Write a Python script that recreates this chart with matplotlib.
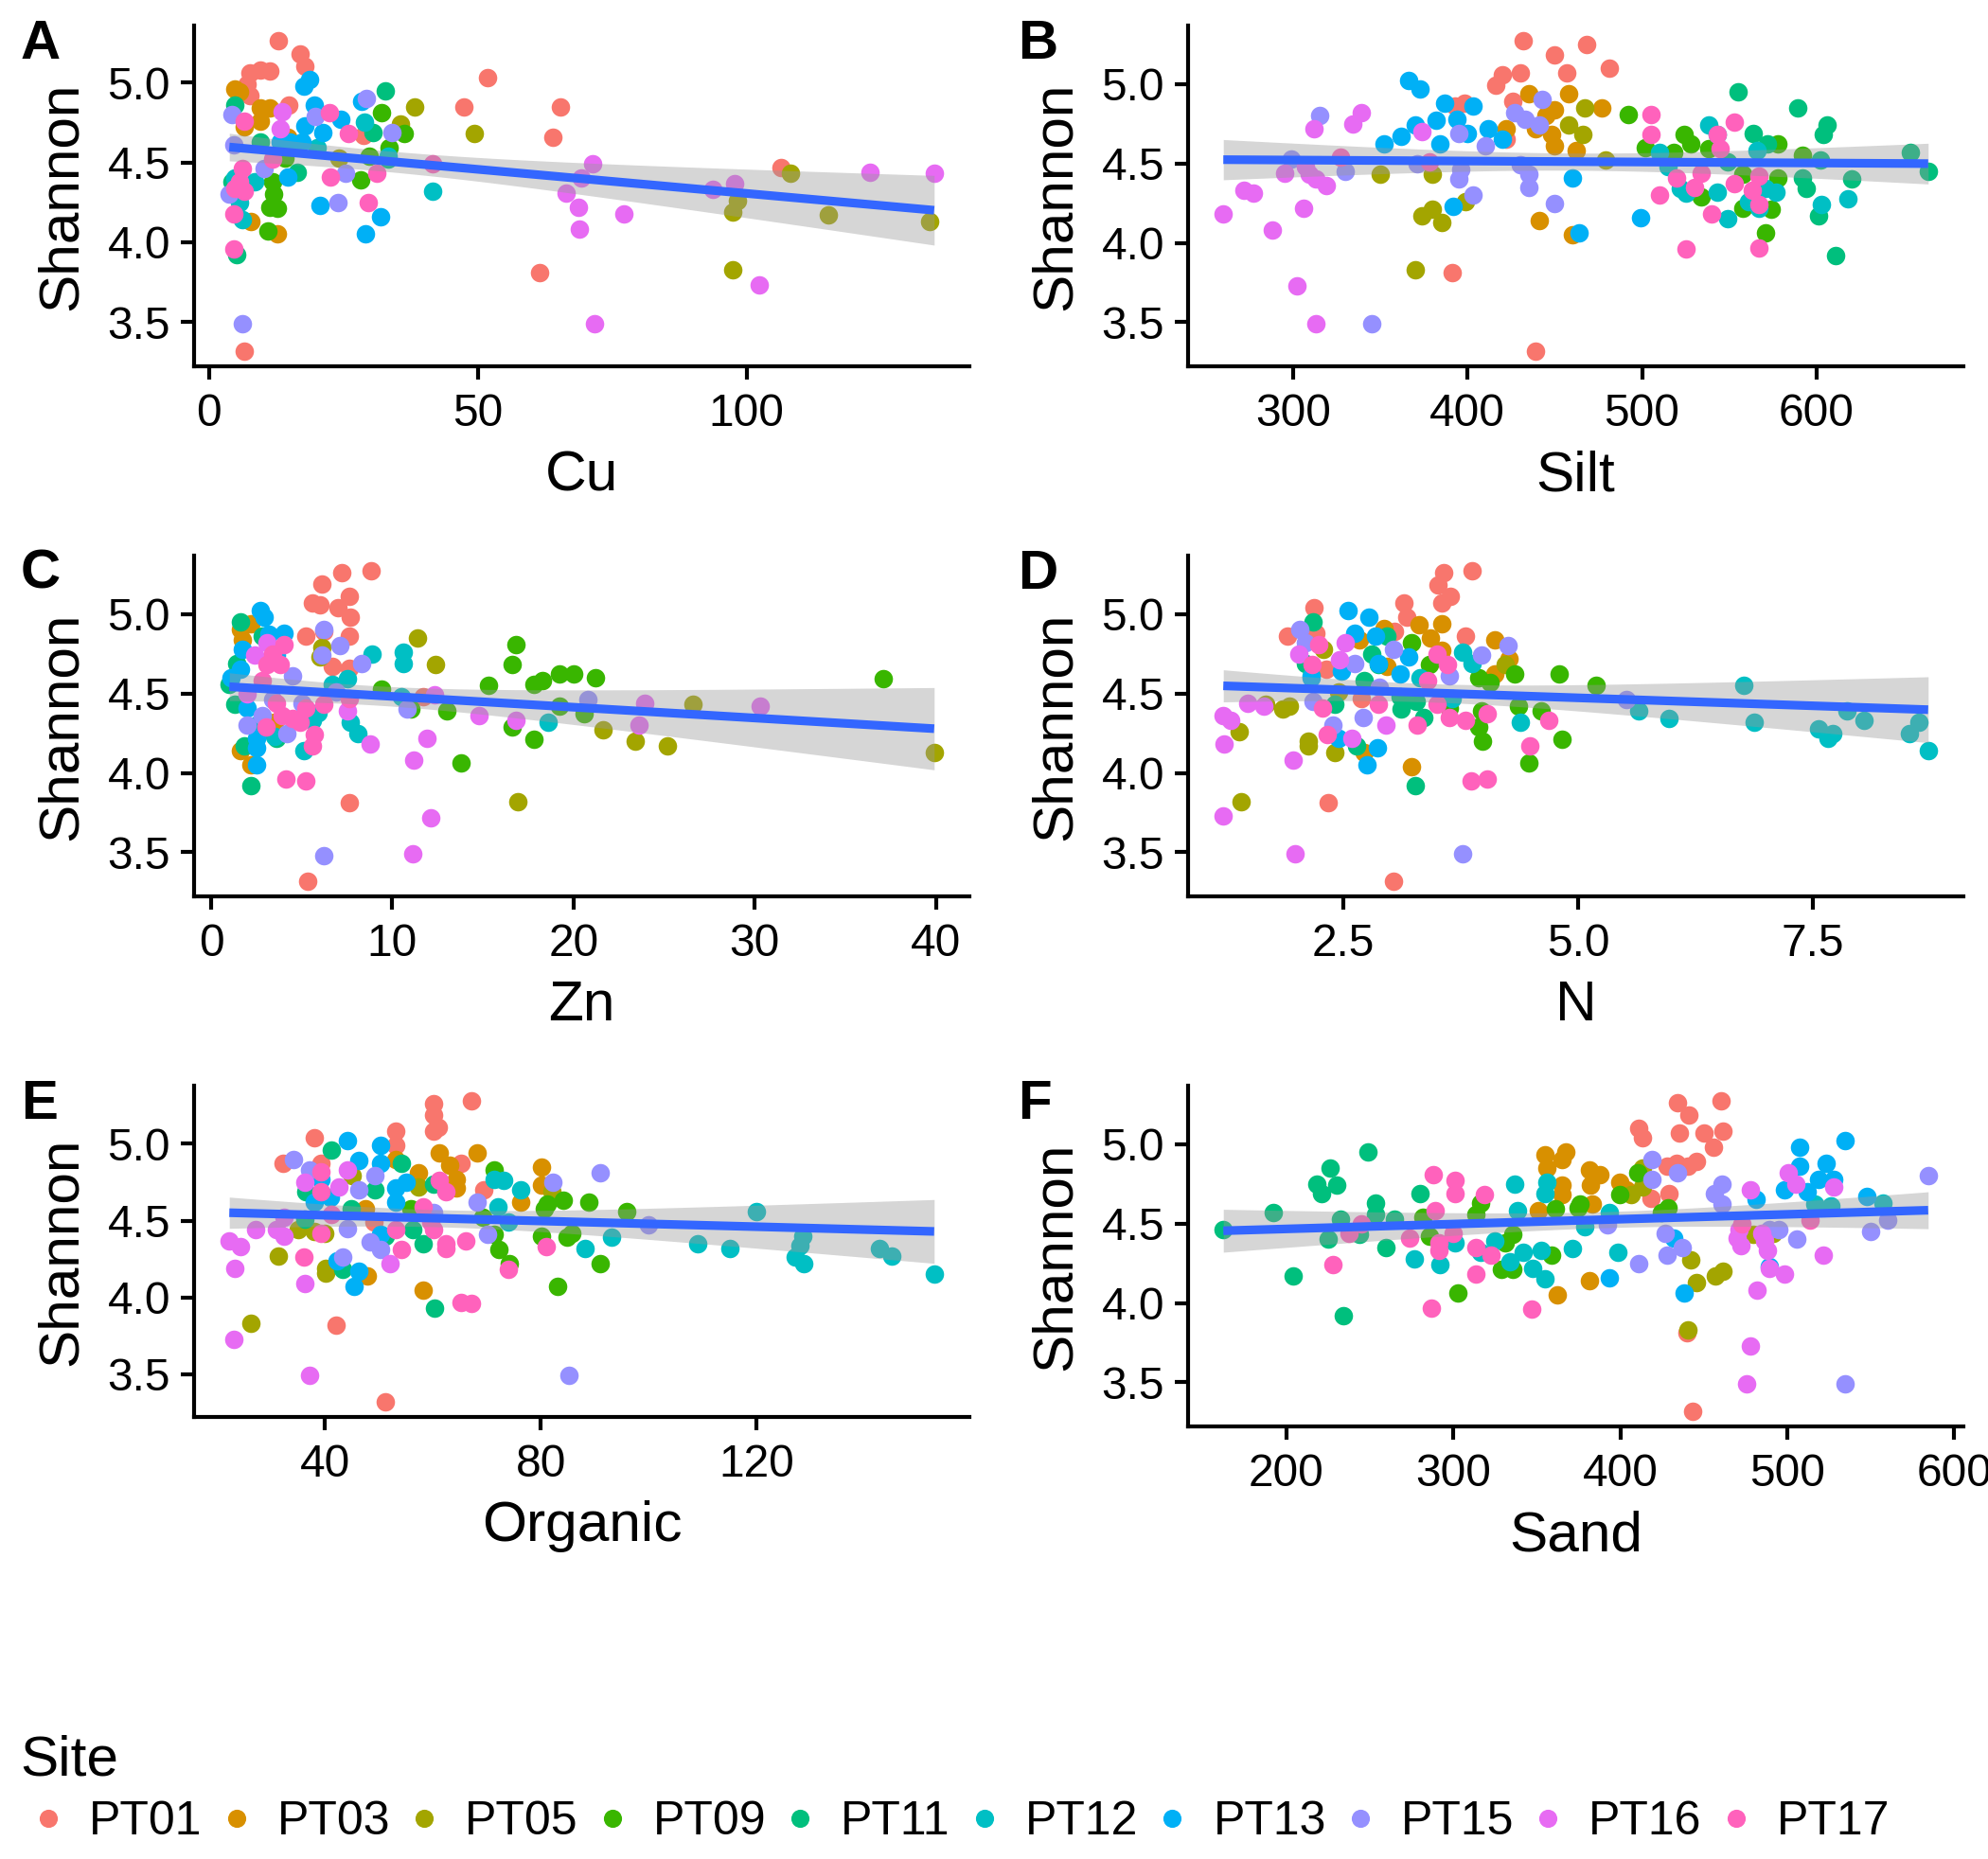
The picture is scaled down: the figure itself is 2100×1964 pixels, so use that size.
import numpy as np
import matplotlib
matplotlib.use("Agg")
import matplotlib.pyplot as plt
from matplotlib.lines import Line2D

plt.rcParams['font.family'] = ['Liberation Sans', 'DejaVu Sans']

sites = ["PT01", "PT03", "PT05", "PT09", "PT11", "PT12", "PT13", "PT15", "PT16", "PT17"]
site_colors = ["#F8766D", "#D89000", "#A3A500", "#39B600", "#00BF7D",
               "#00BFC4", "#00B0F6", "#9590FF", "#E76BF3", "#FF62BC"]

# points are listed site by site, the counts say how many belong to each site
cu = [13.0, 16.9, 17.9, 7.6, 9.5, 11.3, 7.1, 14.8, 51.8, 47.4, 65.4, 64.0, 61.6, 106.4, 6.6, 28.7, 7.6,
      5.7, 9.5, 11.3, 9.5, 6.6, 12.7, 7.8, 14.6, 4.8,
      38.2, 49.3, 35.7, 24.2, 108.2, 98.4, 97.5, 115.3, 134.0, 97.5,
      32.1, 36.4, 33.5, 29.8, 28.2, 11.8, 12.1, 11.3, 12.7, 11.0, 14.1,
      32.9, 30.5, 4.8, 16.5, 5.2, 9.5, 4.3, 33.3,
      29.0, 41.6, 6.2, 5.7, 8.5, 20.2, 33.3, 4.8,
      17.7, 18.8, 19.6, 24.6, 28.4, 17.9, 21.2, 20.7, 31.9, 29.1, 14.6, 15.1, 17.4, 13.2,
      29.3, 34.0, 19.8, 4.3, 25.4, 24.0, 10.2, 6.2, 3.8, 4.6,
      13.7, 13.2, 71.3, 69.2, 66.4, 68.7, 77.1, 68.9, 71.7, 102.3, 123.0, 134.9, 93.7, 97.7,
      22.4, 26.0, 22.6, 31.3, 29.6, 41.6, 6.5, 5.7, 4.8, 6.6, 4.6, 4.6, 6.2, 11.8]
cu_shannon = [5.26, 5.18, 5.10, 5.06, 5.08, 5.07, 4.99, 4.86, 5.03, 4.85, 4.85, 4.66, 3.81, 4.47, 3.32, 4.67, 4.92,
              4.94, 4.84, 4.84, 4.76, 4.72, 4.05, 4.13, 4.66, 4.96,
              4.85, 4.68, 4.74, 4.53, 4.43, 4.26, 4.19, 4.17, 4.13, 3.83,
              4.81, 4.68, 4.59, 4.54, 4.39, 4.38, 4.30, 4.22, 4.21, 4.07, 4.53,
              4.95, 4.69, 4.86, 4.44, 3.92, 4.63, 4.38, 4.52,
              4.75, 4.32, 4.14, 4.25, 4.38, 4.59, 4.54, 4.40,
              4.98, 5.02, 4.86, 4.77, 4.88, 4.73, 4.69, 4.23, 4.16, 4.05, 4.41, 4.63, 4.63, 4.63,
              4.90, 4.69, 4.79, 4.80, 4.43, 4.25, 4.46, 3.49, 4.30, 4.61,
              4.82, 4.71, 4.49, 4.40, 4.31, 4.22, 4.18, 4.08, 3.49, 3.73, 4.44, 4.43, 4.33, 4.37,
              4.81, 4.68, 4.41, 4.43, 4.25, 4.49, 4.76, 4.38, 4.34, 4.32, 4.18, 3.96, 4.46, 4.52]
cu_counts = [17, 9, 10, 11, 8, 8, 14, 10, 14, 14]

silt = [432, 450, 468, 457, 481, 430, 420, 416, 426, 393, 398, 391, 439, 422,
        435, 458, 450, 445, 439, 448, 450, 462, 477, 422, 441, 460,
        467, 458, 466, 479, 350, 380, 374, 380, 385, 399, 370,
        492, 502, 524, 528, 518, 538, 558, 578, 578, 574, 558, 571, 534, 592,
        555, 589, 606, 604, 564, 572, 602, 594, 601, 611, 654, 664, 620, 592, 549,
        538, 543, 566, 510, 515, 522, 525, 543, 577, 561, 567, 549, 603, 618, 571,
        366, 373, 387, 403, 382, 394, 370, 362, 352, 384, 400, 412, 420, 392, 460, 464, 499,
        315, 443, 427, 433, 441, 395, 410, 299, 330, 371, 396, 395, 430, 435, 435, 403, 450, 345,
        339, 334, 312, 374, 307, 295, 309, 313, 319, 272, 277, 306, 260, 288, 302, 313,
        505, 505, 553, 543, 545, 534, 520, 530, 553, 563, 567, 567, 510, 540, 525, 567, 327, 378]
silt_shannon = [5.27, 5.18, 5.25, 5.07, 5.10, 5.07, 5.06, 4.99, 4.89, 4.86, 4.88, 3.81, 3.32, 4.65,
                4.94, 4.94, 4.84, 4.80, 4.72, 4.68, 4.61, 4.58, 4.85, 4.72, 4.14, 4.05,
                4.85, 4.74, 4.68, 4.52, 4.43, 4.43, 4.17, 4.21, 4.13, 4.26, 3.83,
                4.81, 4.60, 4.68, 4.62, 4.57, 4.59, 4.43, 4.62, 4.41, 4.21, 4.22, 4.06, 4.29, 4.55,
                4.95, 4.85, 4.74, 4.68, 4.69, 4.62, 4.52, 4.34, 4.17, 3.92, 4.57, 4.45, 4.40, 4.41, 4.51,
                4.74, 4.68, 4.58, 4.57, 4.48, 4.34, 4.31, 4.32, 4.32, 4.26, 4.22, 4.15, 4.24, 4.28, 4.34,
                5.02, 4.97, 4.88, 4.86, 4.77, 4.78, 4.74, 4.67, 4.62, 4.62, 4.69, 4.72, 4.65, 4.23, 4.41, 4.06, 4.16,
                4.80, 4.90, 4.82, 4.78, 4.74, 4.69, 4.61, 4.53, 4.45, 4.50, 4.46, 4.40, 4.49, 4.43, 4.35, 4.30, 4.25, 3.49,
                4.82, 4.75, 4.72, 4.70, 4.48, 4.44, 4.43, 4.40, 4.36, 4.33, 4.31, 4.22, 4.18, 4.08, 3.73, 3.49,
                4.81, 4.68, 4.76, 4.68, 4.59, 4.44, 4.41, 4.35, 4.37, 4.33, 4.42, 4.24, 4.30, 4.18, 3.96, 3.97, 4.54, 4.51]
silt_counts = [14, 12, 11, 14, 15, 15, 17, 18, 16, 18]

zn = [7.2, 8.8, 6.1, 7.6, 5.6, 6.0, 7.0, 7.7, 5.2, 6.2, 7.6, 6.7, 7.6, 11.7, 7.6, 5.3,
      1.6, 2.2, 1.7, 1.6, 2.2, 3.5,
      11.4, 12.4, 6.1, 6.0, 26.6, 21.6, 23.4, 25.2, 39.9, 16.9,
      16.8, 16.6, 19.2, 20.0, 21.2, 18.3, 17.8, 37.1, 15.3, 9.4, 13.0, 11.0, 19.2, 20.6, 16.6, 17.8, 13.8,
      1.6, 1.0, 1.3, 1.4, 1.8, 2.2, 3.6, 2.8,
      8.9, 10.6, 10.6, 7.5, 6.7, 7.7, 8.1, 5.1, 10.5, 18.6, 5.6, 3.5, 2.5, 5.9,
      2.7, 2.9, 4.0, 3.2, 1.7, 1.6, 2.0, 2.5, 2.5, 2.5, 3.6, 1.1,
      6.2, 7.1, 6.1, 8.3, 4.5, 20.8, 10.8, 5.0, 2.0, 4.2, 2.8, 3.4, 6.2, 6.9,
      3.1, 2.4, 2.0, 7.5, 8.75, 11.9, 11.2, 14.8, 16.8, 23.9, 23.6, 30.3, 12.3, 12.1, 11.1,
      4.0, 3.4, 3.1, 3.8, 3.6, 3.9, 4.5, 4.9, 5.2, 6.2, 7.6, 3.0, 5.7, 5.6, 4.1, 5.2, 2.8]
zn_shannon = [5.26, 5.27, 5.19, 5.11, 5.07, 5.06, 5.04, 4.98, 4.86, 4.89, 4.86, 4.67, 4.66, 4.48, 3.81, 3.32,
              4.90, 4.94, 4.84, 4.14, 4.05, 4.32,
              4.85, 4.68, 4.79, 4.73, 4.43, 4.27, 4.20, 4.17, 4.13, 3.82,
              4.81, 4.68, 4.62, 4.62, 4.60, 4.58, 4.56, 4.59, 4.55, 4.53, 4.39, 4.40, 4.42, 4.37, 4.29, 4.21, 4.06,
              4.95, 4.56, 4.43, 4.69, 4.17, 3.92, 4.22, 4.86,
              4.75, 4.76, 4.69, 4.59, 4.56, 4.32, 4.25, 4.14, 4.48, 4.32, 4.33, 4.23, 4.30, 4.38,
              5.02, 4.98, 4.88, 4.87, 4.78, 4.65, 4.41, 4.22, 4.16, 4.05, 4.74, 4.60,
              4.90, 4.80, 4.74, 4.69, 4.61, 4.46, 4.40, 4.44, 4.30, 4.25, 4.36, 4.46, 3.48, 4.51,
              4.82, 4.74, 4.50, 4.39, 4.18, 4.22, 4.08, 4.36, 4.33, 4.44, 4.30, 4.42, 4.49, 3.72, 3.49,
              4.81, 4.75, 4.68, 4.68, 4.44, 4.36, 4.34, 4.32, 4.41, 4.43, 4.47, 4.29, 4.24, 4.17, 3.96, 3.95, 4.58]
zn_counts = [16, 6, 10, 17, 8, 14, 12, 14, 15, 17]

nitrogen = [3.57, 3.87, 3.51, 3.64, 3.55, 3.14, 3.17, 2.19, 1.90, 2.21, 3.04, 3.80, 2.32, 2.69, 2.34, 3.03,
            3.31, 3.55, 3.43, 2.93, 3.55, 4.11, 4.26, 4.11, 2.96, 3.23, 2.72, 2.67,
            2.29, 4.22, 1.67, 1.85, 1.92, 1.39, 2.13, 2.13, 2.41, 1.41, 2.45,
            3.22, 3.42, 3.94, 4.06, 4.32, 4.80, 5.19, 4.36, 4.61, 3.97, 3.94, 3.98, 4.83, 4.48, 3.63,
            2.18, 2.80, 2.96, 2.87, 2.10, 2.72, 2.41, 3.11, 3.28, 3.36, 2.64, 3.27, 3.10,
            3.77, 3.87, 3.32, 2.16, 3.66, 4.38, 6.77, 5.65, 5.97, 6.88, 7.56, 7.71, 7.66, 7.86, 8.05, 8.63, 8.53, 8.73,
            2.55, 2.77, 2.62, 2.84, 3.19, 2.87, 3.10, 2.48, 2.86, 2.75, 2.45, 2.16,
            2.03, 2.10, 3.03, 2.62, 3.97, 4.25, 3.63, 2.18, 2.71, 2.39, 5.51, 3.77, 2.88,
            2.52, 2.02, 2.46, 1.48, 1.65, 1.22, 1.30, 1.23, 1.96, 1.22, 1.98, 2.95, 2.59,
            2.24, 2.17, 3.50, 3.61, 3.40, 2.87, 2.28, 3.50, 3.63, 3.80, 4.03, 3.29, 4.69, 2.33, 4.49, 3.86, 4.03]
nitrogen_shannon = [5.26, 5.27, 5.18, 5.11, 5.07, 5.07, 4.98, 5.04, 4.86, 4.88, 4.89, 4.86, 4.65, 4.47, 3.81, 3.32,
                    4.93, 4.94, 4.85, 4.91, 4.77, 4.84, 4.72, 4.62, 4.67, 4.04, 4.13, 4.84,
                    4.78, 4.68, 4.43, 4.40, 4.42, 4.26, 4.20, 4.17, 4.13, 3.82, 4.51,
                    4.82, 4.68, 4.60, 4.57, 4.62, 4.62, 4.55, 4.42, 4.39, 4.39, 4.29, 4.20, 4.21, 4.06, 4.41,
                    4.95, 4.75, 4.86, 4.68, 4.69, 4.58, 4.43, 4.40, 4.45, 4.35, 4.17, 3.92, 4.48,
                    4.76, 4.69, 4.60, 4.61, 4.47, 4.32, 4.55, 4.39, 4.34, 4.32, 4.28, 4.25, 4.22, 4.39, 4.33, 4.32, 4.25, 4.14,
                    5.02, 4.98, 4.88, 4.86, 4.73, 4.69, 4.62, 4.64, 4.16, 4.05, 4.22, 4.60,
                    4.90, 4.82, 4.78, 4.69, 4.74, 4.80, 4.61, 4.45, 4.35, 4.30, 4.46, 3.49, 4.54,
                    4.82, 4.75, 4.71, 4.44, 4.42, 4.36, 4.33, 4.18, 4.08, 3.73, 3.49, 4.30, 4.22,
                    4.81, 4.68, 4.75, 4.68, 4.58, 4.43, 4.41, 4.43, 4.35, 4.33, 4.37, 4.30, 4.33, 4.24, 4.17, 3.95, 3.96]
nitrogen_counts = [16, 12, 11, 15, 13, 18, 12, 13, 13, 17]

organic = [60.2, 60.2, 61.0, 60.2, 67.2, 53.2, 53.2, 38.1, 32.3, 39.3, 65.2, 69.4, 49.1, 42.1, 51.2,
           61.2, 68.2, 63.1, 64.3, 64.3, 57.3, 53.1, 80.1, 80.1, 76.2, 58.2, 47.9, 47.5,
           45.1, 57.3, 82.0, 35.1, 38.1, 31.3, 40.2, 40.2, 26.3, 40.0,
           71.3, 84.1, 89.0, 80.6, 81.2, 96.0, 69.2, 71.3, 80.1, 85.7, 84.8, 72.2, 74.1, 91.1, 83.1, 55.9,
           41.2, 54.2, 49.3, 60.1, 36.5, 36.3, 44.9, 56.3, 58.2, 43.3, 60.3, 51.2,
           71.3, 73.2, 76.2, 72.1, 74.0, 93.2, 88.2, 120.0, 109.0, 115.1, 128.6, 128.1, 127.2, 128.8, 142.8, 145.0, 152.9,
           44.2, 50.3, 46.3, 50.3, 39.3, 53.1, 55.1, 53.2, 41.1, 38.1, 46.3, 45.4, 42.3, 50.3,
           34.2, 37.2, 49.3, 46.3, 68.2, 82.2, 91.1, 70.1, 44.2, 48.4, 50.3, 43.3, 99.9, 60.2, 85.2,
           36.3, 44.2, 42.6, 32.4, 27.2, 31.1, 32.4, 22.3, 24.4, 23.4, 36.3, 52.1, 23.2, 37.2,
           39.3, 39.3, 61.2, 62.4, 58.2, 59.6, 60.2, 53.2, 39.3, 62.4, 62.4, 66.1, 54.2, 36.2, 81.0, 74.0, 65.2, 67.2, 41.2]
organic_shannon = [5.26, 5.19, 5.11, 5.08, 5.28, 5.08, 4.99, 5.04, 4.87, 4.87, 4.87, 4.70, 4.49, 3.82, 3.32,
                   4.94, 4.94, 4.86, 4.77, 4.71, 4.81, 4.90, 4.85, 4.73, 4.62, 4.05, 4.14, 4.58,
                   4.79, 4.72, 4.69, 4.44, 4.43, 4.27, 4.19, 4.16, 3.83, 4.42,
                   4.83, 4.63, 4.62, 4.58, 4.61, 4.56, 4.52, 4.41, 4.40, 4.42, 4.39, 4.31, 4.22, 4.22, 4.07, 4.58,
                   4.96, 4.87, 4.70, 4.74, 4.69, 4.51, 4.58, 4.44, 4.35, 4.18, 3.93, 4.40,
                   4.77, 4.76, 4.70, 4.59, 4.49, 4.39, 4.32, 4.56, 4.35, 4.32, 4.40, 4.34, 4.26, 4.22, 4.32, 4.27, 4.15,
                   5.02, 4.99, 4.89, 4.87, 4.77, 4.71, 4.75, 4.62, 4.65, 4.62, 4.17, 4.07, 4.24, 4.41,
                   4.90, 4.83, 4.79, 4.70, 4.62, 4.75, 4.81, 4.41, 4.45, 4.36, 4.31, 4.26, 4.47, 4.55, 3.49,
                   4.75, 4.83, 4.72, 4.52, 4.44, 4.44, 4.40, 4.37, 4.33, 4.19, 4.09, 4.22, 3.73, 3.49,
                   4.82, 4.69, 4.76, 4.69, 4.59, 4.49, 4.44, 4.44, 4.42, 4.35, 4.32, 4.37, 4.31, 4.26, 4.33, 4.18, 3.97, 3.96, 4.54]
organic_counts = [15, 13, 10, 16, 12, 17, 14, 15, 14, 19]

sand = [434.5, 460.2, 441.2, 411.0, 413.1, 435.2, 450.2, 461.7, 455.7, 445.7, 428.2, 433.6, 440.6, 429.1, 418.6, 439.7, 443.3,
        354.7, 367.3, 355.9, 364.9, 381.8, 387.8, 364.9, 364.9, 382.4, 383.0, 350.7, 399.9, 403.5, 381.5, 362.2,
        413.1, 413.1, 406.5, 479.8, 491.5, 442.1, 445.7, 457.2, 461.4, 440.6,
        410.4, 399.6, 428.5, 424.6, 361.3, 374.9, 375.8, 316.1, 313.7, 282.0, 285.9, 335.7, 331.1, 358.9, 329.0, 335.7, 302.5,
        249.1, 226.2, 218.1, 230.1, 221.1, 279.9, 253.3, 253.3, 192.5, 162.3, 232.3, 264.8, 225.0, 243.7, 259.7, 203.9, 234.1,
        336.6, 355.9, 354.7, 338.7, 393.5, 378.5, 325.1, 316.1, 301.0, 276.9, 292.0, 341.7, 352.8, 334.2, 347.7, 354.7,
        371.2, 398.4, 516.6, 526.2, 557.2,
        507.5, 507.5, 534.6, 523.5, 518.7, 527.7, 498.5, 512.0, 481.3, 547.6, 432.1, 393.2, 438.2, 489.5,
        419.2, 419.2, 434.5, 460.8, 456.3, 460.8, 584.4, 392.3, 427.0, 437.3, 428.2, 411.0, 489.4, 494.8, 506.0, 549.7, 560.3, 534.6,
        500.9, 505.4, 477.9, 527.7, 471.3, 469.8, 472.3, 484.9, 486.4, 487.9, 489.5, 498.5, 482.0, 521.7, 477.9, 475.8,
        288.0, 301.0, 301.0, 318.5, 289.0, 245.2, 237.7, 273.9, 291.3, 291.3, 300.1, 313.7, 322.7, 228.0, 313.7, 286.8, 347.1, 513.5, 472.8]
sand_shannon = [5.26, 5.27, 5.18, 5.10, 5.04, 5.07, 5.07, 5.08, 4.98, 4.89, 4.86, 4.88, 4.86, 4.69, 4.66, 3.81, 3.32,
                4.93, 4.95, 4.85, 4.90, 4.84, 4.81, 4.74, 4.68, 4.74, 4.62, 4.58, 4.76, 4.71, 4.14, 4.05,
                4.85, 4.73, 4.68, 4.43, 4.44, 4.27, 4.13, 4.17, 4.20, 3.83,
                4.82, 4.68, 4.60, 4.57, 4.59, 4.60, 4.62, 4.63, 4.56, 4.54, 4.42, 4.43, 4.38, 4.30, 4.21, 4.21, 4.06,
                4.95, 4.85, 4.75, 4.74, 4.69, 4.69, 4.63, 4.56, 4.57, 4.46, 4.53, 4.53, 4.40, 4.43, 4.35, 4.17, 3.92,
                4.75, 4.76, 4.69, 4.58, 4.57, 4.48, 4.39, 4.32, 4.38, 4.28, 4.24, 4.32, 4.33, 4.26, 4.22, 4.15,
                4.34, 4.32, 4.62, 4.61, 4.63,
                4.98, 4.86, 5.02, 4.88, 4.78, 4.78, 4.71, 4.70, 4.65, 4.67, 4.41, 4.16, 4.06, 4.23,
                4.90, 4.78, 4.82, 4.75, 4.69, 4.62, 4.80, 4.49, 4.44, 4.35, 4.30, 4.25, 4.46, 4.46, 4.40, 4.45, 4.52, 3.49,
                4.82, 4.75, 4.71, 4.73, 4.46, 4.41, 4.36, 4.44, 4.39, 4.33, 4.22, 4.18, 4.08, 4.30, 3.73, 3.49,
                4.81, 4.77, 4.69, 4.68, 4.58, 4.50, 4.44, 4.41, 4.38, 4.33, 4.44, 4.35, 4.30, 4.24, 4.18, 3.97, 3.96, 4.52, 4.50]
sand_counts = [17, 15, 10, 17, 17, 21, 14, 18, 16, 19]

shannon_ticks = [3.5, 4.0, 4.5, 5.0]


def draw_panel(ax, x, y, counts, xlabel, xticks, xticklabels):
    x = np.asarray(x, dtype=float)
    y = np.asarray(y, dtype=float)
    assert len(x) == len(y) == sum(counts)
    start = 0
    for n, col in zip(counts, site_colors):
        ax.scatter(x[start:start + n], y[start:start + n], s=22, color=col,
                   linewidths=0, zorder=2)
        start += n

    # linear fit with 95% band, like geom_smooth(method = "lm")
    slope, intercept = np.polyfit(x, y, 1)
    xs = np.linspace(x.min(), x.max(), 80)
    fit = intercept + slope * xs
    resid = y - (intercept + slope * x)
    n = len(x)
    s = np.sqrt(np.sum(resid ** 2) / (n - 2))
    se = s * np.sqrt(1 / n + (xs - x.mean()) ** 2 / np.sum((x - x.mean()) ** 2))
    ax.fill_between(xs, fit - 1.98 * se, fit + 1.98 * se, color='#999999',
                    alpha=0.4, linewidth=0, zorder=3)
    ax.plot(xs, fit, color='#3366FF', lw=2.2, zorder=4, solid_capstyle='butt')

    ax.margins(x=0.05, y=0.05)
    ax.set_xticks(xticks)
    ax.set_xticklabels(xticklabels)
    ax.set_yticks(shannon_ticks)
    ax.set_yticklabels(['%.1f' % t for t in shannon_ticks])
    ax.set_xlabel(xlabel, fontsize=14.5, labelpad=3.8)
    ax.set_ylabel('Shannon', fontsize=14.5, labelpad=5)
    for side in ['top', 'right']:
        ax.spines[side].set_visible(False)
    for side in ['left', 'bottom']:
        ax.spines[side].set_linewidth(1.0)
    ax.tick_params(axis='both', length=3.4, width=1.0, labelsize=11.5, colors='black')
    ax.tick_params(axis='x', pad=3.2)
    ax.tick_params(axis='y', pad=2.6)


fig = plt.figure(figsize=(7.0, 1964 / 300), dpi=300)

W, H = 2100.0, 1964.0
col_left = [205 / W, 1255 / W]
ax_w = 819 / W
rows = [(27, 387), (587, 947), (1147, 1507)]

panels = [
    (cu, cu_shannon, cu_counts, 'Cu', [0, 50, 100], ['0', '50', '100'], 'A'),
    (silt, silt_shannon, silt_counts, 'Silt', [300, 400, 500, 600], ['300', '400', '500', '600'], 'B'),
    (zn, zn_shannon, zn_counts, 'Zn', [0, 10, 20, 30, 40], ['0', '10', '20', '30', '40'], 'C'),
    (nitrogen, nitrogen_shannon, nitrogen_counts, 'N', [2.5, 5.0, 7.5], ['2.5', '5.0', '7.5'], 'D'),
    (organic, organic_shannon, organic_counts, 'Organic', [40, 80, 120], ['40', '80', '120'], 'E'),
    (sand, sand_shannon, sand_counts, 'Sand', [200, 300, 400, 500, 600], ['200', '300', '400', '500', '600'], 'F'),
]

for i, (x, y, counts, xlabel, xticks, xtl, letter) in enumerate(panels):
    r, c = divmod(i, 2)
    top, bottom = rows[r]
    if letter == 'E':
        bottom -= 10  # taller axis title ("g" descender) squeezes this panel
    ax = fig.add_axes([col_left[c], 1 - bottom / H, ax_w, (bottom - top) / H])
    draw_panel(ax, x, y, counts, xlabel, xticks, xtl)
    fig.text([22, 1075][c] / W, 1 - (62 + 560 * r) / H, letter, fontsize=14,
             fontweight='bold', ha='left', va='baseline')

handles = [Line2D([], [], marker='o', linestyle='none', markersize=4.6,
                  markerfacecolor=col, markeredgewidth=0) for col in site_colors]
leg = fig.legend(handles, sites, ncol=10, loc='upper left',
                 bbox_to_anchor=(0.010, 0.067), frameon=False, title='Site',
                 fontsize=12, title_fontsize=14.5, alignment='left',
                 handlelength=1.2, handletextpad=0.26, columnspacing=0.12,
                 borderpad=0, borderaxespad=0, labelspacing=0.3)

fig.savefig('out.png', dpi=300)
